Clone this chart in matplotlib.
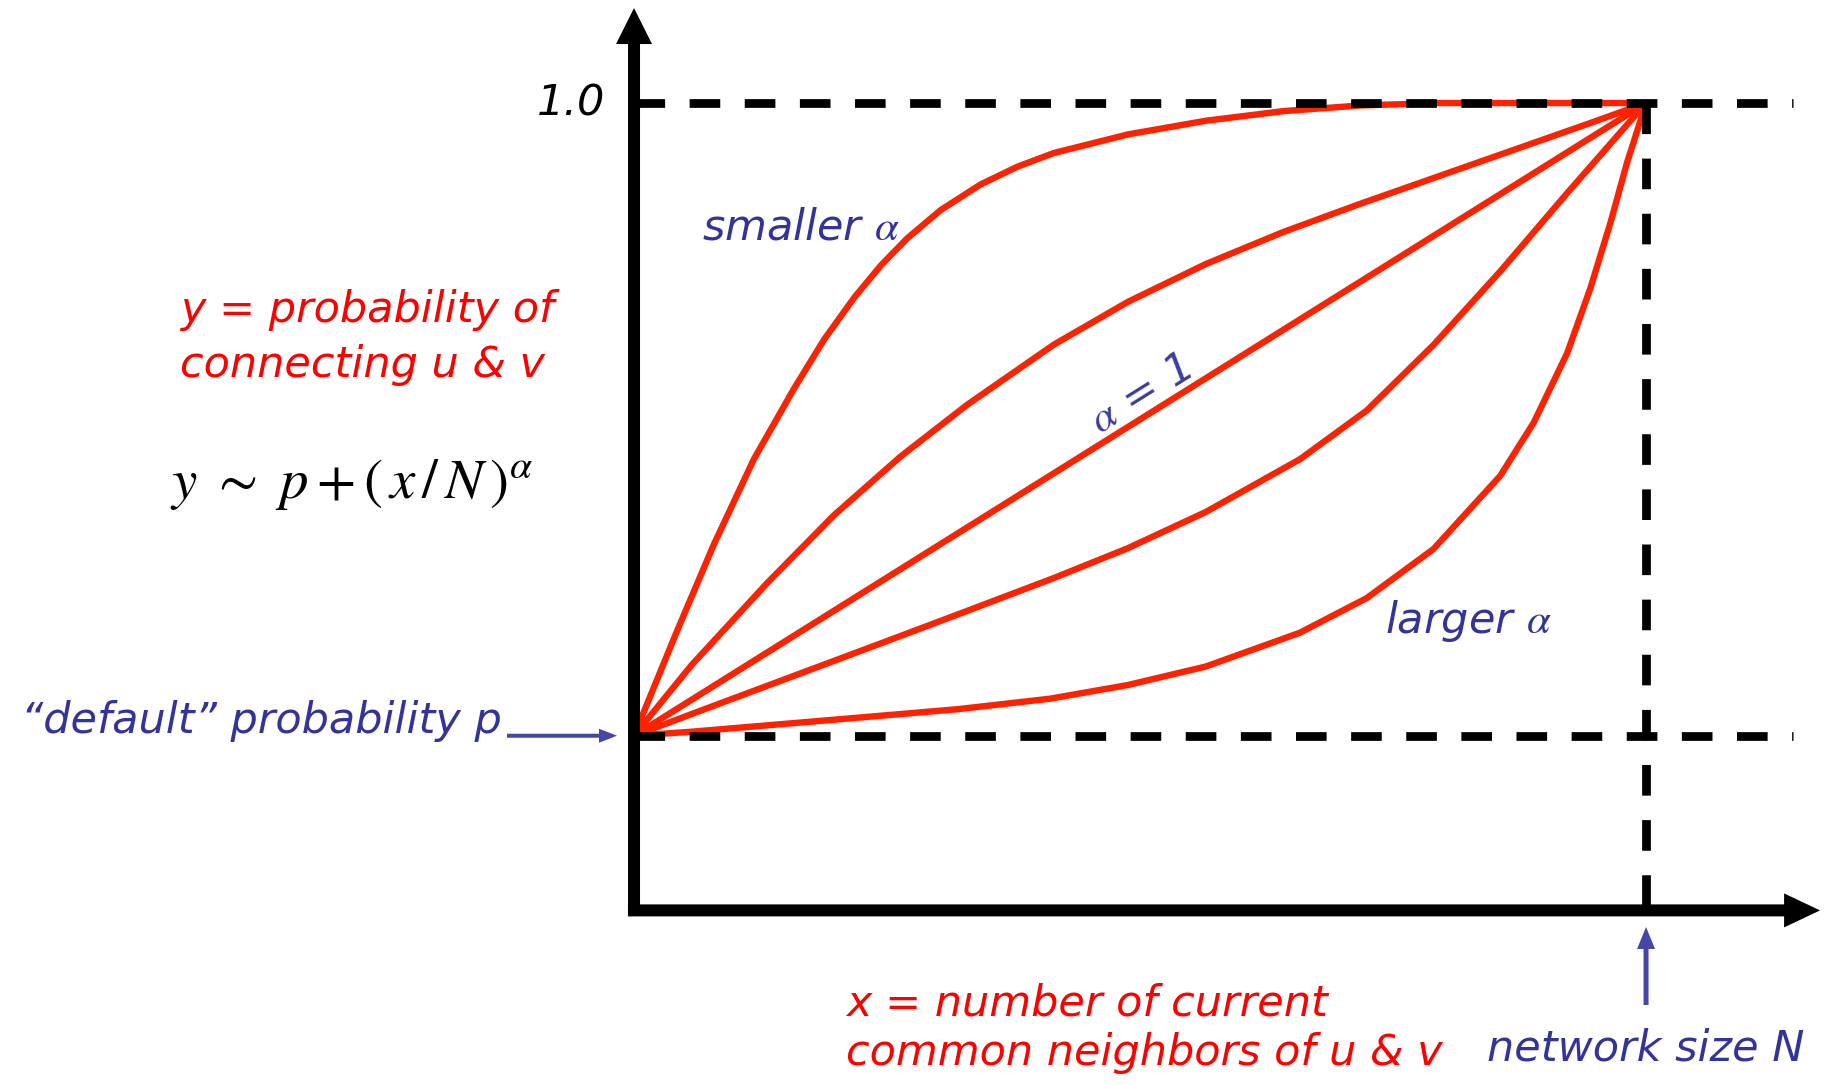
import matplotlib.pyplot as plt

# x is the fraction x/N of the network size, y the connection probability
P_DEFAULT = 0.214

X_SMALLER = [0, 0.0428, 0.079, 0.1186, 0.158, 0.1877, 0.2174, 0.2437, 0.270, 0.303,
             0.3426, 0.379, 0.415, 0.488, 0.565, 0.642, 0.718, 0.795, 0.872, 0.950, 1.0]
Y_SMALLER = [0.214, 0.345, 0.452, 0.558, 0.645, 0.706, 0.758, 0.798, 0.832, 0.867,
             0.899, 0.921, 0.938, 0.961, 0.978, 0.990, 0.997, 1.0, 1.0, 1.0, 1.0]

X_SMALL = [0, 0.057, 0.1318, 0.1976, 0.2635, 0.329, 0.415, 0.488, 0.565, 0.642, 0.718,
           0.795, 0.872, 0.949, 1.0]
Y_SMALL = [0.214, 0.302, 0.404, 0.488, 0.561, 0.625, 0.700, 0.753, 0.800, 0.840, 0.875,
           0.909, 0.943, 0.977, 1.0]

X_ONE = [0, 1.0]
Y_ONE = [0.214, 1.0]

X_LARGE = [0, 0.057, 0.123, 0.1976, 0.255, 0.329, 0.415, 0.488, 0.565, 0.658, 0.724,
           0.790, 0.856, 0.922, 1.0]
Y_LARGE = [0.214, 0.241, 0.272, 0.307, 0.334, 0.369, 0.410, 0.447, 0.492, 0.5575, 0.618,
           0.6995, 0.791, 0.888, 1.0]

X_LARGER = [0, 0.057, 0.189, 0.320, 0.411, 0.488, 0.565, 0.658, 0.724, 0.790, 0.856,
            0.889, 0.922, 0.945, 0.965, 0.981, 1.0]
Y_LARGER = [0.214, 0.219, 0.233, 0.247, 0.260, 0.277, 0.300, 0.342, 0.385, 0.446, 0.537,
            0.603, 0.689, 0.770, 0.852, 0.925, 1.0]

CURVES = [(X_SMALLER, Y_SMALLER), (X_SMALL, Y_SMALL), (X_ONE, Y_ONE),
          (X_LARGE, Y_LARGE), (X_LARGER, Y_LARGER)]

RED = "#ff0000"
CURVE_RED = "#ff2200"
BLUE = "#333399"
ARROW_BLUE = "#4646a8"

plt.rcParams["mathtext.fontset"] = "stix"
plt.rcParams["font.family"] = ["DejaVu Sans"]

fig = plt.figure(figsize=(18.37, 10.85), dpi=100)
ax = fig.add_axes([0, 0, 1, 1])
ax.set_xlim(-0.6265, 1.1887)
ax.set_ylim(-0.2199, 1.128)
ax.axis("off")

# px per data unit, used to size the arrow heads
PX_X = 1012.0
PX_Y = 805.0

for xs, ys in CURVES:
    ax.plot(xs, ys, color=CURVE_RED, lw=4.6, solid_capstyle="round",
            solid_joinstyle="round", zorder=2)

dash = (0, (3.5, 2.8))
ax.plot([0, 1.145], [1.0, 1.0], color="black", lw=6.3, linestyle=dash, zorder=3)
ax.plot([0, 1.145], [P_DEFAULT, P_DEFAULT], color="black", lw=6.3, linestyle=dash, zorder=3)
ax.plot([1.0, 1.0], [1.0, 0.0], color="black", lw=6.3, linestyle=dash, zorder=3)

# axes with arrow heads
ax.arrow(0, -0.0075, 0, 1.118 + 0.0075, width=12 / PX_X, head_width=36 / PX_X,
         head_length=36 / PX_Y, length_includes_head=True, color="black", lw=0, zorder=4)
ax.arrow(-0.006, -0.003, 1.172 + 0.006, 0, width=12 / PX_Y, head_width=34 / PX_Y,
         head_length=36 / PX_X, length_includes_head=True, color="black", lw=0, zorder=4)

# blue pointer arrows
ax.arrow(-0.1255, P_DEFAULT, 0.1087, 0, width=4 / PX_Y, head_width=14 / PX_Y,
         head_length=18 / PX_X, length_includes_head=True, color=ARROW_BLUE, lw=0, zorder=4)
ax.arrow(1.0, -0.1205, 0, 0.0969, width=5 / PX_X, head_width=18 / PX_X,
         head_length=22 / PX_Y, length_includes_head=True, color=ARROW_BLUE, lw=0, zorder=4)

txt = dict(style="italic", fontsize=31)

ax.text(-0.028, 1.0, "1.0", ha="right", va="center", color="black", **txt)
ax.text(0.067, 0.83, r"smaller $\alpha$", ha="left", va="baseline", color=BLUE, **txt)
ax.text(-0.449, 0.728, "y = probability of", ha="left", va="baseline", color=RED, **txt)
ax.text(-0.449, 0.660, "connecting u & v", ha="left", va="baseline", color=RED, **txt)
ax.text(-0.459, 0.509, r"$y\ \sim\ p + (\,x\,/\,N\,)^{\alpha}$", ha="left", va="baseline",
        color="black", fontsize=41)
ax.text(0.50, 0.637, r"$\alpha$ = 1", ha="center", va="center", rotation=32,
        rotation_mode="anchor", color="#3c3ca0", **txt)
ax.text(0.742, 0.342, r"larger $\alpha$", ha="left", va="baseline", color=BLUE, **txt)
ax.text(-0.131, 0.217, "\u201cdefault\u201d probability p", ha="right", va="baseline",
        color=BLUE, **txt)
ax.text(0.2095, -0.133, "x = number of current", ha="left", va="baseline", color=RED, **txt)
ax.text(0.2095, -0.195, "common neighbors of u & v", ha="left", va="baseline", color=RED, **txt)
ax.text(1.0, -0.189, "network size N", ha="center", va="baseline", color=BLUE, **txt)

fig.savefig("out.png", dpi=100)
